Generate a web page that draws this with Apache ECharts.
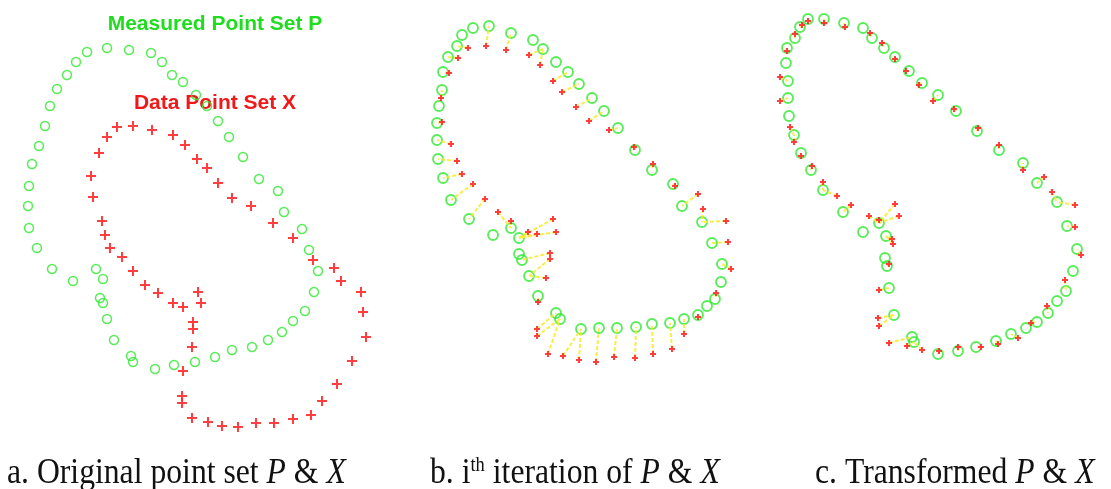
<!DOCTYPE html>
<html>
<head>
<meta charset="utf-8">
<script src="https://cdn.jsdelivr.net/npm/echarts@6.0.0/dist/echarts.min.js"></script>
<style>
html, body { margin: 0; padding: 0; background: #fff; }
#main { width: 1111px; height: 489px; }
</style>
</head>
<body>
<div id="main"></div>
<script>
// point sets (page pixel units, y grows down)
const measuredA = [
  [107,48],[129,50],[151,53],[162,62],[172,75],[183,82],[196,95],[207,106],[218,121],[229,137],
  [243,157],[259,179],[278,191],[284,212],[302,229],[309,250],[318,271],[314,292],[305,311],[293,321],
  [282,332],[268,340],[252,347],[232,350],[215,357],[195,362],[174,365],[155,369],[133,362],[131,356],
  [114,340],[107,319],[103,303],[100,298],[103,279],[96,269],[73,281],[52,269],[37,248],[29,228],
  [28,206],[29,186],[32,164],[39,146],[45,126],[50,106],[57,89],[67,75],[76,62],[87,52]
];
const dataA = [
  [117,127],[133,126],[152,130],[173,135],[185,145],[197,159],[207,168],[218,183],[232,198],[251,206],
  [273,223],[293,238],[313,260],[334,268],[341,281],[361,292],[363,312],[366,337],[352,361],[337,384],
  [322,401],[311,415],[293,419],[274,423],[256,423],[238,427],[222,426],[208,422],[192,418],[182,403],
  [182,396],[183,371],[192,347],[193,329],[193,322],[201,303],[198,292],[183,307],[173,303],[158,293],
  [145,285],[133,271],[122,257],[110,248],[105,235],[102,221],[93,197],[91,176],[99,153],[107,137]
];
const measuredB = [
  [489,26],[511,33],[533,40],[543,49],[556,62],[568,72],[579,84],[592,98],[604,111],[618,128],
  [635,150],[652,170],[673,184],[682,206],[702,222],[712,243],[722,264],[721,282],[715,299],[707,306],
  [698,315],[684,319],[670,323],[652,324],[636,327],[617,328],[599,328],[581,329],[560,319],[556,313],
  [538,296],[529,276],[522,260],[519,254],[519,238],[511,228],[493,235],[469,219],[451,200],[443,178],
  [438,159],[437,140],[437,123],[439,106],[442,90],[443,72],[448,57],[457,46],[462,35],[473,28]
];
const dataB = [
  [486,46],[506,50],[529,55],[540,65],[553,81],[562,92],[576,107],[589,121],[609,130],[634,147],
  [653,164],[675,186],[698,194],[703,209],[726,221],[728,242],[731,269],[716,293],[698,317],[684,334],
  [672,349],[653,354],[635,358],[614,357],[596,362],[579,360],[563,356],[548,354],[537,336],[537,329],
  [538,302],[546,278],[550,259],[550,253],[556,232],[553,219],[537,234],[528,232],[511,221],[498,212],
  [485,199],[473,184],[462,174],[457,161],[451,144],[442,122],[441,98],[449,73],[458,58],[468,48]
];
const measuredC = [
  [824,19],[844,23],[863,28],[872,38],[884,48],[895,57],[909,71],[922,83],[938,95],[956,111],
  [977,131],[999,150],[1023,163],[1037,183],[1057,202],[1067,226],[1077,249],[1073,271],[1066,291],[1057,301],
  [1048,313],[1037,322],[1026,328],[1011,334],[996,341],[976,347],[958,351],[938,354],[914,342],[912,337],
  [894,315],[889,288],[887,266],[885,258],[886,236],[879,223],[863,232],[843,212],[823,190],[811,170],
  [801,153],[794,135],[789,116],[788,98],[788,81],[786,63],[787,48],[795,38],[800,27],[808,19]
];
const dataC = [
  [824,23],[845,27],[870,33],[882,43],[895,59],[906,71],[919,85],[933,101],[954,109],[978,128],
  [999,145],[1023,170],[1044,177],[1052,192],[1075,205],[1075,227],[1081,255],[1065,280],[1047,306],[1031,323],
  [1018,338],[998,344],[981,347],[958,347],[939,351],[922,350],[907,346],[889,343],[879,326],[878,318],
  [879,290],[889,264],[893,244],[892,239],[899,216],[895,204],[879,220],[869,216],[851,205],[837,196],
  [823,182],[812,166],[801,156],[794,142],[790,127],[780,101],[780,77],[787,51],[795,34],[802,25],[808,21]
];

const GREEN = "#2ee82e";
const RED = "#ff2a2a";
const plusBig = "path://M4,0H6V4H10V6H6V10H4V6H0V4H4Z";
const plusSmall = "path://M3.3,0H6.7V3.3H10V6.7H6.7V10H3.3V6.7H0V3.3H3.3Z";

// each data point is paired with its closest measured point (ICP step)
function closestPairs(reds, greens) {
  return reds.map(function (r) {
    let best = greens[0];
    let bd = Infinity;
    greens.forEach(function (g) {
      const d = (g[0] - r[0]) * (g[0] - r[0]) + (g[1] - r[1]) * (g[1] - r[1]);
      if (d < bd) { bd = d; best = g; }
    });
    return { coords: [r, best] };
  });
}

function greenSet(data, size, bw) {
  return {
    type: "scatter", data: data, symbol: "circle", symbolSize: size, z: 2,
    itemStyle: { color: "rgba(0,0,0,0)", borderColor: GREEN, borderWidth: bw },
    silent: true
  };
}
function redSet(data, sym, size) {
  return {
    type: "scatter", data: data, symbol: sym, symbolSize: size, z: 4,
    itemStyle: { color: RED, opacity: 0.9 }, silent: true
  };
}
function links(reds, greens) {
  return {
    type: "lines", coordinateSystem: "cartesian2d", z: 3, silent: true,
    lineStyle: { color: "#f4ec2a", width: 2, opacity: 0.85, type: [4, 2] },
    data: closestPairs(reds, greens)
  };
}

const capFont = '"Liberation Serif", "Times New Roman", serif';
function caption(x, text) {
  return {
    type: "text", x: x, y: 474, scaleX: 0.88,
    style: {
      text: text, fill: "#111",
      textAlign: "left", align: "left", textVerticalAlign: "middle", verticalAlign: "middle",
      rich: {
        n: { fontFamily: capFont, fontSize: 36, lineHeight: 36 },
        i: { fontFamily: capFont, fontSize: 36, lineHeight: 36, fontStyle: "italic" },
        // superscript: padding underneath lifts it to the top of the line
        s: { fontFamily: capFont, fontSize: 21, lineHeight: 21, padding: [0, 0, 17, 0] }
      }
    }
  };
}
function label(x, y, text, color) {
  return {
    type: "text", x: x, y: y,
    style: {
      text: text, fill: color, font: 'bold 21px "Liberation Sans", Arial, sans-serif',
      textAlign: "center", align: "center", textVerticalAlign: "middle", verticalAlign: "middle"
    }
  };
}

const chart = echarts.init(document.getElementById("main"));
chart.setOption({
  animation: false,
  grid: { left: 0, right: 0, top: 0, bottom: 0 },
  xAxis: { type: "value", min: 0, max: 1111, show: false },
  yAxis: { type: "value", min: 0, max: 489, inverse: true, show: false },
  series: [
    greenSet(measuredA, 9, 1.5),
    redSet(dataA, plusBig, 10),
    links(dataB, measuredB),
    greenSet(measuredB, 10, 1.8),
    redSet(dataB, plusSmall, 6),
    links(dataC, measuredC),
    greenSet(measuredC, 10, 1.8),
    redSet(dataC, plusSmall, 6)
  ],
  graphic: [
    label(215, 24, "Measured Point Set P", "#1fdc1f"),
    label(215, 103, "Data Point Set X", "#f01818"),
    caption(7, "{n|a. Original point set }{i|P}{n| & }{i|X}"),
    caption(430, "{n|b. i}{s|th}{n| iteration of }{i|P}{n| & }{i|X}"),
    caption(815, "{n|c. Transformed }{i|P}{n| & }{i|X}")
  ]
});
</script>
</body>
</html>
